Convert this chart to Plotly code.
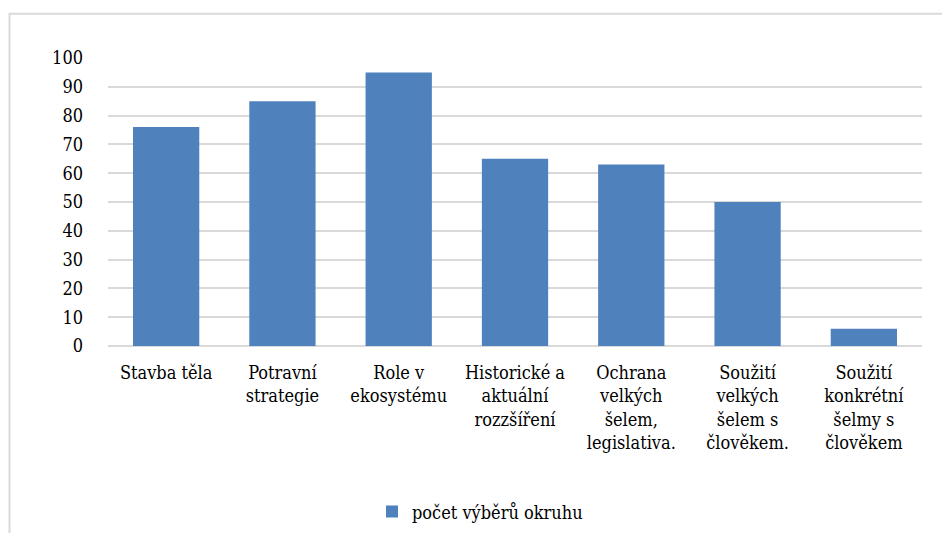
import plotly.graph_objects as go

categories = [
    "Stavba těla",
    "Potravní<br>strategie",
    "Role v<br>ekosystému",
    "Historické a<br>aktuální<br>rozzšíření",
    "Ochrana<br>velkých<br>šelem,<br>legislativa.",
    "Soužití<br>velkých<br>šelem s<br>člověkem.",
    "Soužití<br>konkrétní<br>šelmy s<br>člověkem",
]
values = [76, 85, 95, 65, 63, 50, 6]
series_name = "počet výběrů okruhu"
y_ticks = list(range(0, 101, 10))

FONT = "DejaVu Serif Condensed, DejaVu Serif"
OFF = 8  # page body margin

W, H = 950 - 2 * OFF, 541 - 2 * OFF
PX0, PX1, PY0, PY1 = 108, 922, 57.5, 346.5
L, R = PX0 - OFF, W - (PX1 - OFF)
T, B = PY0 - OFF, H - (PY1 - OFF)
pw, ph = W - L - R, H - T - B

def px2x(px):
    return (px - PX0) / pw

def py2y(py):
    return (PY1 - py) / ph

fig = go.Figure()
fig.add_trace(go.Bar(
    x=categories, y=values, name=series_name,
    marker=dict(color="#4F81BD", line=dict(width=0)),
    showlegend=True,
))

fig.update_layout(
    width=W, height=H,
    margin=dict(l=L, r=R, t=T, b=B, autoexpand=False),
    paper_bgcolor="white", plot_bgcolor="white",
    font=dict(family=FONT, size=18, color="black"),
    bargap=0.43,
    showlegend=True,
    legend=dict(
        orientation="h", x=px2x(480), xanchor="center", y=py2y(513), yanchor="middle",
        font=dict(family=FONT, size=18, color="black"),
        itemwidth=30,
    ),
    xaxis=dict(
        showgrid=False, showline=False, ticks="", tickangle=0,
        tickfont=dict(family=FONT, size=18, color="black"),
        ticklabelstandoff=14,
        fixedrange=True, automargin=False,
    ),
    yaxis=dict(
        range=[0, 100], tickvals=y_ticks, showgrid=True, gridcolor="#d9d9d9", gridwidth=1.5,
        zeroline=True, zerolinecolor="#d9d9d9", zerolinewidth=1.5,
        showline=False, ticks="", ticklen=0, ticklabelstandoff=24,
        tickfont=dict(family=FONT, size=18, color="black"),
        automargin=False,
    ),
    shapes=[dict(
        type="rect", xref="paper", yref="paper",
        x0=px2x(9.5), x1=px2x(1000), y0=py2y(600), y1=py2y(13),
        line=dict(color="#d9d9d9", width=2), fillcolor="rgba(0,0,0,0)", layer="below",
    )],
)

fig.write_html("out.html")
